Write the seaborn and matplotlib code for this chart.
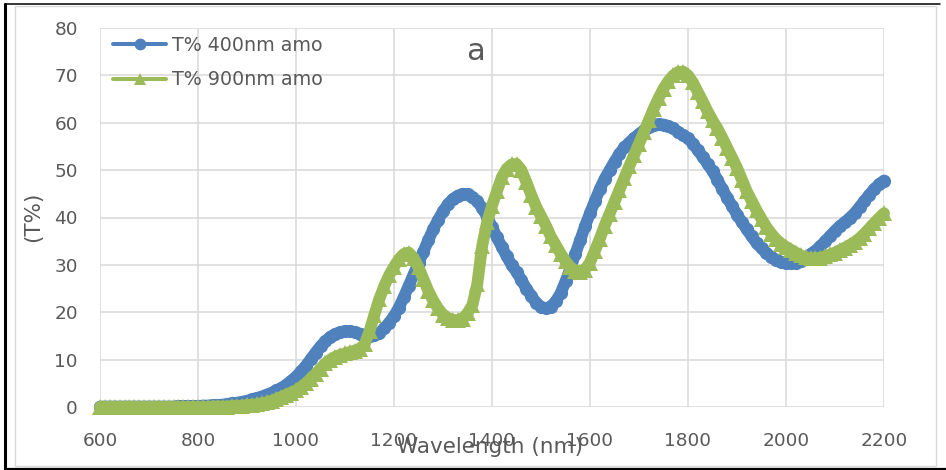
import numpy as np
import pandas as pd
import matplotlib
matplotlib.use("Agg")
import matplotlib.pyplot as plt
from matplotlib.lines import Line2D
from matplotlib.patches import Rectangle
import seaborn as sns

wavelength = list(range(600, 2201, 10))

t400 = [
    0.1, 0.1, 0.1, 0.1, 0.1, 0.1, 0.1, 0.1, 0.1, 0.1,   # 600-690
    0.1, 0.1, 0.1, 0.1, 0.1, 0.1, 0.2, 0.2, 0.2, 0.2,   # 700-790
    0.2, 0.3, 0.3, 0.4, 0.4, 0.5, 0.6, 0.8, 0.9, 1.1,   # 800-890
    1.3, 1.6, 1.9, 2.2, 2.6, 3.0, 3.5, 4.0, 4.7, 5.5,   # 900-990
    6.4, 7.5, 8.7, 10.1, 11.5, 12.8, 13.9, 14.8, 15.4, 15.8,  # 1000-1090
    16.0, 16.0, 15.8, 15.5, 15.2, 15.0, 15.1, 15.6, 16.6, 17.8,  # 1100-1190
    19.2, 21.0, 23.2, 25.6, 28.0, 30.4, 32.8, 35.2, 37.5, 39.5,  # 1200-1290
    41.3, 42.8, 43.9, 44.6, 45.0, 44.9, 44.3, 43.4, 42.0, 40.2,  # 1300-1390
    38.0, 35.8, 33.8, 31.8, 30.0, 28.5, 26.8, 25.0, 23.5, 22.0,  # 1400-1490
    21.1, 20.8, 21.2, 22.3, 24.0, 26.5, 29.3, 32.3, 35.2, 38.2,  # 1500-1590
    40.9, 43.5, 46.0, 48.2, 50.0, 51.8, 53.4, 54.8, 55.8, 56.8,  # 1600-1690
    57.6, 58.4, 59.0, 59.5, 59.7, 59.6, 59.3, 58.8, 58.0, 57.4,  # 1700-1790
    56.7, 55.6, 54.2, 52.8, 51.3, 49.8, 48.0, 46.0, 44.2, 42.4,  # 1800-1890
    40.6, 39.0, 37.5, 36.0, 34.6, 33.5, 32.5, 31.7, 31.1, 30.7,  # 1900-1990
    30.4, 30.3, 30.4, 30.8, 31.5, 32.3, 33.0, 33.9, 35.0, 36.1,  # 2000-2090
    37.2, 38.2, 39.0, 39.9, 40.9, 42.2, 43.5, 44.8, 46.0, 47.0,  # 2100-2190
    47.8,                                                      # 2200
]

t900 = [
    0.0, 0.0, 0.0, 0.0, 0.0, 0.0, 0.0, 0.0, 0.0, 0.0,   # 600-690
    0.0, 0.0, 0.0, 0.0, 0.0, 0.0, 0.0, 0.0, 0.0, 0.0,   # 700-790
    0.0, 0.0, 0.0, 0.1, 0.1, 0.1, 0.1, 0.2, 0.2, 0.3,   # 800-890
    0.4, 0.5, 0.6, 0.8, 1.0, 1.3, 1.7, 2.1, 2.6, 3.0,   # 900-990
    3.5, 4.2, 5.0, 6.0, 7.0, 8.1, 9.2, 10.0, 10.6, 11.0,  # 1000-1090
    11.3, 11.6, 11.9, 12.3, 13.2, 16.0, 19.5, 22.8, 25.5, 27.8,  # 1100-1190
    29.6, 31.2, 32.3, 32.6, 31.5, 29.5, 27.0, 24.5, 22.5, 20.8,  # 1200-1290
    19.5, 18.8, 18.4, 18.3, 18.6, 19.8, 21.5, 26.0, 34.0, 39.0,  # 1300-1390
    42.5, 45.5, 48.5, 50.3, 51.2, 51.3, 50.0, 47.5, 44.8, 42.3,  # 1400-1490
    40.3, 38.3, 36.0, 34.2, 32.4, 30.8, 29.5, 28.8, 28.6, 29.0,  # 1500-1590
    30.5, 33.0, 35.5, 38.3, 40.8, 43.3, 45.8, 48.3, 50.8, 53.2,  # 1600-1690
    55.6, 58.0, 60.5, 63.0, 65.2, 67.2, 68.8, 70.0, 70.7, 70.8,  # 1700-1790
    70.0, 68.5, 66.5, 64.5, 62.4, 60.5, 58.8, 56.8, 54.7, 52.6,  # 1800-1890
    50.5, 48.0, 45.5, 43.5, 41.5, 39.7, 38.0, 36.6, 35.4, 34.5,  # 1900-1990
    33.8, 33.2, 32.6, 32.0, 31.6, 31.4, 31.4, 31.5, 31.8, 32.2,  # 2000-2090
    32.6, 33.1, 33.6, 34.2, 34.8, 35.6, 36.6, 37.7, 38.8, 39.9,  # 2100-2190
    40.9,                                                      # 2200
]

series_names = ["T% 400nm amo", "T% 900nm amo"]
colors = ["#4F81BD", "#9BBB59"]
x_ticks = [600, 800, 1000, 1200, 1400, 1600, 1800, 2000, 2200]
y_ticks = [0, 10, 20, 30, 40, 50, 60, 70, 80]

df = pd.DataFrame({
    "Wavelength": wavelength * 2,
    "T": t400 + t900,
    "series": [series_names[0]] * len(wavelength) + [series_names[1]] * len(wavelength),
})

sns.set_theme(style="white")
plt.rcParams["font.family"] = ["DejaVu Sans"]

W, H = 946, 470
fig = plt.figure(figsize=(W / 100, H / 100), dpi=100)
ax = fig.add_axes([100 / W, 1 - 407 / H, 784 / W, 379 / H])

sns.lineplot(
    data=df, x="Wavelength", y="T", hue="series", style="series",
    markers={series_names[0]: "o", series_names[1]: "^"}, dashes=False,
    palette=dict(zip(series_names, colors)), linewidth=8.5,
    markeredgewidth=0, ax=ax, clip_on=False, zorder=3,
)
for line in ax.get_lines():
    if line.get_marker() == "o":
        line.set_markersize(9.5)
    elif line.get_marker() == "^":
        line.set_markersize(11.5)

ax.set_xlim(600, 2200)
ax.set_ylim(0, 80)
ax.set_xticks(x_ticks)
ax.set_yticks(y_ticks)
ax.grid(True, color="#D9D9D9", linewidth=1.1)
ax.set_axisbelow(True)
for s in ax.spines.values():
    s.set_visible(False)
ax.tick_params(axis="both", length=0, labelsize=13.3, labelcolor="#595959")
ax.tick_params(axis="y", pad=16)
ax.tick_params(axis="x", pad=18)
ax.set_xlabel("")
ax.set_ylabel("")

leg = ax.legend(
    loc="upper left", bbox_to_anchor=(0.0166, 0.979), borderaxespad=0,
    frameon=False, borderpad=0, fontsize=13.7, handlelength=2.8,
    handletextpad=0.3, labelspacing=0.8,
)
for t in leg.get_texts():
    t.set_color("#595959")
for h in leg.legend_handles:
    h.set_markersize(8.5)
    h.set_linewidth(2.9)

fig.text(490 / W, 1 - 453 / H, "Wavelength (nm)", ha="center", va="baseline",
         fontsize=15.5, color="#595959")
fig.text(33 / W, 1 - 217 / H, "(T%)", ha="center", va="center", rotation=90,
         fontsize=15.5, color="#595959")
ax.text((475 - 100) / 784, (407 - 52) / 379, "a", transform=ax.transAxes,
        ha="center", va="center", fontsize=22, color="#595959")

# chart area borders
fig.add_artist(Rectangle((15 / W, 1 - 465.5 / H), (936 - 15) / W, (465.5 - 5.5) / H,
                         transform=fig.transFigure, fill=False,
                         edgecolor="#D9D9D9", linewidth=1.0))
fig.add_artist(Line2D([4.5 / W, 4.5 / W], [1 - 3.5 / H, 1 - 469 / H],
                      transform=fig.transFigure, color="black", linewidth=2.2))
fig.add_artist(Line2D([4.5 / W, 940 / W], [1 - 3.5 / H, 1 - 3.5 / H],
                      transform=fig.transFigure, color="black", linewidth=1.1))
fig.add_artist(Line2D([4.5 / W, 946 / W], [1 - 469 / H, 1 - 469 / H],
                      transform=fig.transFigure, color="black", linewidth=1.6))

fig.savefig("out.png", dpi=100)
